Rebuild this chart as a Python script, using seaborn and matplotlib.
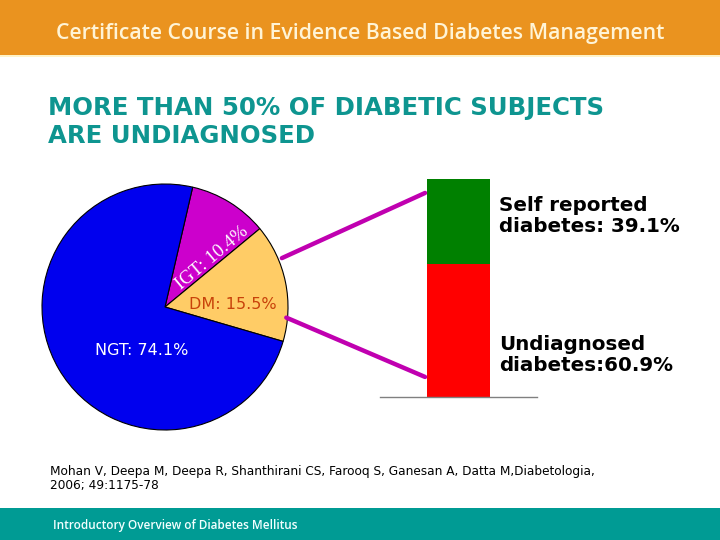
import matplotlib
matplotlib.use("Agg")
import math
import matplotlib.pyplot as plt
import seaborn as sns
import pandas as pd
from matplotlib.patches import ConnectionPatch, Rectangle

# ---- data ----
pie_labels = ["IGT", "DM", "NGT"]
pie_values = [10.4, 15.5, 74.1]
pie_colors = ["#CC00CC", "#FFCC66", "#0000EE"]

bar_parts = ["Self reported diabetes", "Undiagnosed diabetes"]
bar_values = [39.1, 60.9]
bar_colors = ["#008000", "#FF0000"]

title_lines = ["MORE THAN 50% OF DIABETIC SUBJECTS", "ARE UNDIAGNOSED"]
header_text = "Certificate Course in Evidence Based Diabetes Management"
footer_text = "Introductory Overview of Diabetes Mellitus"
citation = ("Mohan V, Deepa M, Deepa R, Shanthirani CS, Farooq S, Ganesan A, Datta M,Diabetologia,\n"
            "2006; 49:1175-78")

sns.set_theme(style="white")
plt.rcParams['font.family'] = ['DejaVu Sans']

W, H = 720, 540
fig = plt.figure(figsize=(7.2, 5.4), dpi=100)
fig.patch.set_facecolor("white")

def fx(px):
    return px / W

def fy(py):
    return 1 - py / H

# header band
fig.patches.append(Rectangle((0, fy(55)), 1, 55 / H, transform=fig.transFigure,
                             facecolor="#EA931F", edgecolor="none", zorder=0))
fig.patches.append(Rectangle((0, fy(57)), 1, 2 / H, transform=fig.transFigure,
                             facecolor="#FFF3C8", edgecolor="none", zorder=0))
fig.text(0.5, fy(33), header_text, ha="center", va="center", color="#FFF4D6",
         fontsize=15.3, family="Open Sans", fontweight="semibold")

# footer band
fig.patches.append(Rectangle((0, 0), 1, 32 / H, transform=fig.transFigure,
                             facecolor="#009B94", edgecolor="none", zorder=0))
fig.text(fx(53), fy(525), footer_text, ha="left", va="center", color="#F2FFFF",
         fontsize=8.5, family="Open Sans", fontweight="semibold")

# title
fig.text(fx(48), fy(108), title_lines[0], ha="left", va="center", color="#0E9590",
         fontsize=17.6, fontweight="bold")
fig.text(fx(48), fy(136), title_lines[1], ha="left", va="center", color="#0E9590",
         fontsize=17.6, fontweight="bold")

# citation
fig.text(fx(50), fy(478), citation, ha="left", va="center", color="black",
         fontsize=8.7, linespacing=1.1)

# ---- pie ----
cx, cy, r = 165, 307, 123
axp = fig.add_axes([fx(cx - r), fy(cy + r), 2 * r / W, 2 * r / H])
wedges, _ = axp.pie(pie_values, colors=pie_colors, startangle=77, counterclock=False,
                    wedgeprops=dict(edgecolor="black", linewidth=0.8), radius=1)
axp.set_xlim(-1, 1)
axp.set_ylim(-1, 1)
axp.set_aspect("equal")
axp.axis("off")

axp.text(0.38, 0.40, f"{pie_labels[0]}: {pie_values[0]}%", ha="center", va="center",
         rotation=40, color="white", fontsize=13.5, family="Liberation Serif",
         rotation_mode="anchor")
axp.text(0.55, 0.02, f"{pie_labels[1]}: {pie_values[1]}%", ha="center", va="center",
         color="#C8420A", fontsize=11.5)
axp.text(-0.19, -0.35, f"{pie_labels[2]}: {pie_values[2]}%", ha="center", va="center",
         color="white", fontsize=11.5)

# ---- stacked bar ----
axb = fig.add_axes([fx(380), fy(397), 157 / W, 218 / H])
df_total = pd.DataFrame({"g": ["Diabetes"], "v": [sum(bar_values)]})
df_und = pd.DataFrame({"g": ["Diabetes"], "v": [bar_values[1]]})
sns.barplot(data=df_total, x="g", y="v", color=bar_colors[0], width=0.395,
            saturation=1, ax=axb, linewidth=0)
sns.barplot(data=df_und, x="g", y="v", color=bar_colors[1], width=0.395,
            saturation=1, ax=axb, linewidth=0)
axb.set_xlim(-0.5, 0.5)
axb.set_ylim(0, 100)
axb.set_xlabel("")
axb.set_ylabel("")
axb.set_xticks([])
axb.set_yticks([])
for s in ["top", "left", "right"]:
    axb.spines[s].set_visible(False)
axb.spines["bottom"].set_color("#808080")
axb.spines["bottom"].set_linewidth(1)
axb.patch.set_alpha(0)

fig.text(fx(499), fy(216), f"Self reported\ndiabetes: {bar_values[0]}%", ha="left",
         va="center", fontsize=14.3, fontweight="bold", color="black", linespacing=1.12)
fig.text(fx(499), fy(355), f"Undiagnosed\ndiabetes:{bar_values[1]}%", ha="left",
         va="center", fontsize=14.3, fontweight="bold", color="black", linespacing=1.12)

# connectors
def pol(ang, rad):
    return (rad * math.cos(math.radians(ang)), rad * math.sin(math.radians(ang)))

for ang, rad, yb in [(22.7, 1.03, 93.6), (-5, 0.99, 9.2)]:
    con = ConnectionPatch(xyA=pol(ang, rad), coordsA=axp.transData,
                          xyB=(-0.213, yb), coordsB=axb.transData,
                          color="#C000B0", linewidth=3.2)
    fig.add_artist(con)

fig.savefig("out.png", dpi=100)
